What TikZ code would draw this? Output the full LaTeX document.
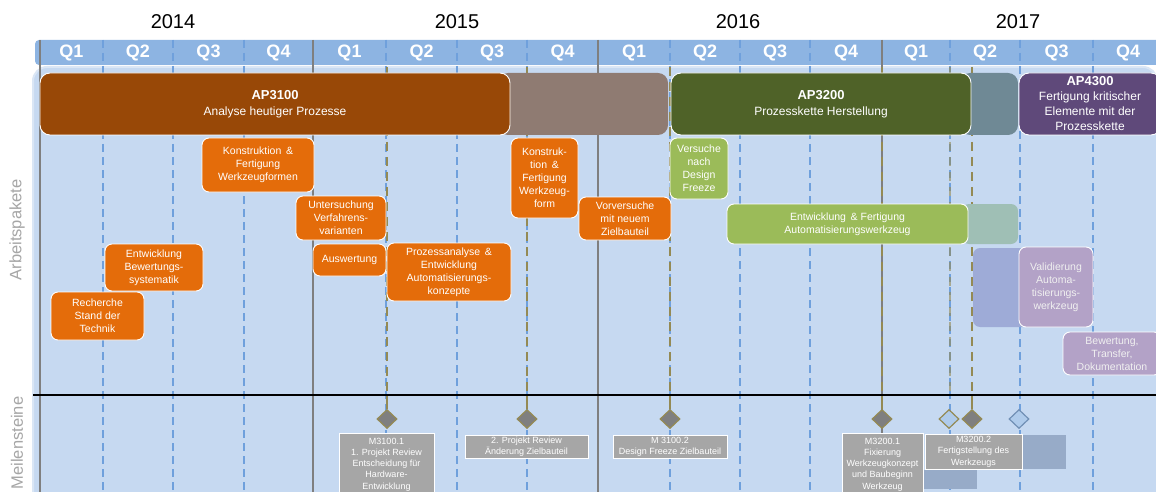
\documentclass[tikz,border=0pt]{standalone}
\usepackage{fontspec}
\setmainfont{Liberation Sans}
\usetikzlibrary{shapes.geometric}

\definecolor{headblue}{HTML}{8DB4E2}
\definecolor{panel}{HTML}{C6D9F1}
\definecolor{panelrim}{HTML}{DAE6F5}
\definecolor{qline}{HTML}{6FA0DC}
\definecolor{yline}{HTML}{7F7F7F}
\definecolor{olive}{HTML}{948A54}
\definecolor{apbrown}{HTML}{984807}
\definecolor{apbrownx}{HTML}{8F7B72}
\definecolor{apgreen}{HTML}{4F6228}
\definecolor{apgreenx}{HTML}{6F8995}
\definecolor{appurple}{HTML}{5F497A}
\definecolor{wporange}{HTML}{E46C0A}
\definecolor{wpgreen}{HTML}{9BBB59}
\definecolor{wpteal}{HTML}{9FBFB5}
\definecolor{wpviolet}{HTML}{9EABD7}
\definecolor{wplilac}{HTML}{B3A2C7}
\definecolor{msgray}{HTML}{A6A6A6}
\definecolor{msblue}{HTML}{97ABC8}
\definecolor{sidegray}{HTML}{A6A6A6}

\begin{document}
\begin{tikzpicture}[x=1pt,y=-1pt,
  yearlab/.style={font=\fontsize{20}{24}\selectfont, text=black},
  qlab/.style={font=\fontsize{18}{22}\selectfont\bfseries, text=white},
  sidelab/.style={font=\fontsize{16.5}{20}\selectfont, text=sidegray, rotate=90},
  yearline/.style={draw=yline, line width=1.8pt},
  qtrline/.style={draw=qline, line width=1.2pt, dash pattern=on 8pt off 5pt},
  msline/.style={draw=olive, line width=1.6pt, dash pattern=on 9pt off 6pt},
  mslinesolid/.style={draw=olive, line width=1.5pt},
  bar/.style={rounded corners=10pt, draw=white, line width=0.9pt, text=white,
    align=center, inner sep=0pt, font=\fontsize{12}{15.5}\selectfont},
  barx/.style={rounded corners=10pt, inner sep=0pt},
  wp/.style={rounded corners=7pt, draw=white, line width=0.9pt, text=white,
    align=center, inner sep=0pt, font=\fontsize{10.5}{13}\selectfont},
  wpshade/.style={rounded corners=7pt, inner sep=0pt},
  msbox/.style={fill=msgray, draw=white, line width=0.8pt, text=white,
    align=center, inner sep=0pt, font=\fontsize{9}{11.3}\selectfont},
  msdiam/.style={diamond, fill=yline, draw=olive, line width=1.2pt,
    minimum width=20pt, minimum height=19pt, inner sep=0pt},
  msdiamopen/.style={diamond, fill=headblue!70!white, line width=1.2pt,
    minimum width=20pt, minimum height=19pt, inner sep=0pt},
]
\clip (0,0) rectangle (1156,492);
\fill[white] (0,0) rectangle (1156,492);

% quarter header and the work panel
\fill[headblue, rounded corners=4pt] (35,40) rectangle (1180,65);
\filldraw[fill=panel, draw=panelrim, line width=2pt, rounded corners=14pt]
  (33,67) rectangle (1157,510);

% years
\node[yearlab] (y2014) at (173,22) {2014};
\node[yearlab] (y2015) at (457,22) {2015};
\node[yearlab] (y2016) at (738,22) {2016};
\node[yearlab] (y2017) at (1018,22) {2017};

% grid: quarter boundaries and year boundaries
\foreach \x in {103,173,244,386,457,527,670,740,810,950,1020,1093}
  \draw[qtrline] (\x,40) -- (\x,492);
\foreach \x in {40,313,598,882}
  \draw[yearline] (\x,40) -- (\x,492);

% quarter labels
\foreach \x/\q [count=\i] in {71.5/Q1,138/Q2,208.5/Q3,278.5/Q4,
    349.5/Q1,421.5/Q2,492/Q3,562.5/Q4,
    634/Q1,705/Q2,775/Q3,846/Q4,
    916/Q1,985/Q2,1056.5/Q3,1128/Q4}
  \node[qlab] (q\i) at (\x,52.5) {\q};

% side labels
\node[sidelab] (lab-ap) at (17,230) {Arbeitspakete};
\node[sidelab] (lab-ms) at (17,443) {Meilensteine};

% milestone connectors
\foreach \x [count=\i] in {387,527,670,882,972} {
  \node[msdiam] (d\i) at (\x,419) {};
  \coordinate (t\i) at (\x,67);
  \coordinate (c\i) at (\x,395);
  \draw[msline] (t\i) -- (c\i);
  \draw[mslinesolid] (c\i) -- (d\i.north);
}
\coordinate (t6) at (950,67);
\draw[msline, draw opacity=0.6] (t6) -- (950,395);
\node[msdiamopen, draw=olive] (d6) at (949,419) {};
\node[msdiamopen, draw=headblue!80!black] (d7) at (1019,419) {};

% divider between work packages and milestones
\draw[black, line width=2.3pt] (33,395) -- (1156,395);

% main work packages
\node[barx, fill=apbrownx, minimum width=170pt, minimum height=62pt] (ap1x) at (583,104) {};
\node[barx, fill=apgreenx, minimum width=58pt, minimum height=62pt] (ap2x) at (989,104) {};
\node[bar, fill=apbrown, minimum width=470pt, minimum height=62pt] (ap3100) at (275,104)
  {{\fontsize{13}{15.5}\selectfont\bfseries AP3100}\\Analyse heutiger Prozesse};
\node[bar, fill=apgreen, minimum width=300pt, minimum height=62pt] (ap3200) at (821,104)
  {{\fontsize{13}{15.5}\selectfont\bfseries AP3200}\\Prozesskette Herstellung};
\node[bar, fill=appurple, minimum width=142pt, minimum height=62pt,
  font=\fontsize{12}{15}\selectfont] (ap4300) at (1090,104)
  {{\fontsize{13}{15}\selectfont\bfseries AP4300}\\Fertigung kritischer\\Elemente mit der\\Prozesskette};

% sub work packages
\node[wp, fill=wporange, minimum width=93pt, minimum height=48pt] (rech) at (97.5,316)
  {Recherche\\Stand der\\Technik};
\node[wp, fill=wporange, minimum width=98pt, minimum height=47pt] (bewsys) at (154,267.5)
  {Entwicklung\\Bewertungs-\\systematik};
\node[wp, fill=wporange, minimum width=112pt, minimum height=54pt] (kfw) at (258,165)
  {Konstruktion \,\&\\Fertigung\\Werkzeugformen};
\node[wp, fill=wporange, minimum width=90pt, minimum height=44pt] (unters) at (341,218)
  {Untersuchung\\Verfahrens-\\varianten};
\node[wp, fill=wporange, minimum width=73pt, minimum height=32pt] (ausw) at (349.5,260)
  {Auswertung};
\node[wp, fill=wporange, minimum width=124pt, minimum height=58pt] (proz) at (449,272)
  {Prozessanalyse \,\&\\Entwicklung\\Automatisierungs-\\konzepte};
\node[wp, fill=wporange, minimum width=67pt, minimum height=80pt] (kfw2) at (544.5,178)
  {Konstruk-\\tion \,\&\\Fertigung\\Werkzeug-\\form};
\node[wp, fill=wporange, minimum width=92pt, minimum height=43pt] (vorv) at (625,218.5)
  {Vorversuche\\mit neuem\\Zielbauteil};
\node[wp, fill=wpgreen, minimum width=58pt, minimum height=61pt] (vers) at (699,168.5)
  {Versuche\\nach\\Design\\Freeze};
\node[wpshade, fill=wpteal, minimum width=56pt, minimum height=40pt] (entwx) at (990,224) {};
\node[wp, fill=wpgreen, minimum width=241pt, minimum height=40pt] (entwaut) at (847.5,224)
  {Entwicklung \,\&\ Fertigung\\Automatisierungswerkzeug};
\node[wpshade, fill=wpviolet, minimum width=58pt, minimum height=79pt] (validx) at (1002,287.5) {};
\node[wp, fill=wplilac, minimum width=74pt, minimum height=80pt, text=white!94!black] (valid) at (1056,287)
  {Validierung\\Automa-\\tisierungs-\\werkzeug};
\node[wp, fill=wplilac, minimum width=98pt, minimum height=43pt, text=white!94!black] (bew) at (1112,353.5)
  {Bewertung,\\Transfer,\\Dokumentation};

% milestone descriptions
\node[fill=msblue, minimum width=54pt, minimum height=19pt, inner sep=0pt] (msx1) at (950,479.5) {};
\node[fill=msblue, minimum width=44pt, minimum height=34pt, inner sep=0pt] (msx2) at (1044,452) {};
\node[msbox, anchor=north, minimum width=95pt, minimum height=62pt] (m31001) at (386.5,433)
  {M3100.1\\1. Projekt Review\\Entscheidung f\"ur\\Hardware-\\Entwicklung};
\node[msbox, minimum width=123pt, minimum height=23pt] (review2) at (526.5,446.5)
  {2. Projekt Review\\\"Anderung Zielbauteil};
\node[msbox, minimum width=114pt, minimum height=23pt] (m31002) at (670,446.5)
  {M 3100.2\\Design Freeze Zielbauteil};
\node[msbox, anchor=north, minimum width=81pt, minimum height=62pt] (m32001) at (882.5,433)
  {M3200.1\\Fixierung\\Werkzeugkonzept\\und Baubeginn\\Werkzeug};
\node[msbox, minimum width=97pt, minimum height=35pt] (m32002) at (973.5,451.5)
  {M3200.2\\Fertigstellung des\\Werkzeugs};
\end{tikzpicture}
\end{document}
